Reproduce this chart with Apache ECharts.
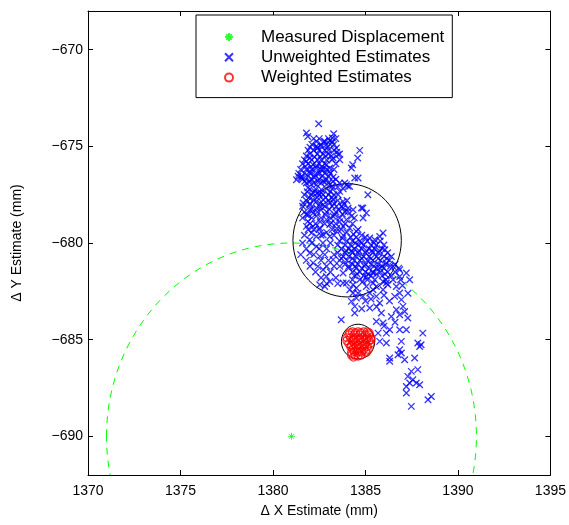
<!DOCTYPE html>
<html>
<head>
<meta charset="utf-8">
<script src="https://cdn.jsdelivr.net/npm/echarts@6/dist/echarts.min.js"></script>
<style>
  html, body { margin: 0; padding: 0; background: #fff; }
  #chart { width: 569px; height: 525px; }
</style>
</head>
<body>
<div id="chart"></div>
<script>
// tick labels
var xTicks = [1370, 1375, 1380, 1385, 1390, 1395];
var yTicks = [-690, -685, -680, -675, -670];

// measured displacement
var measured = [[1381, -690]];

// unweighted estimates
var unweighted = [
  [1382.47,-673.83],[1381.81,-674.31],[1381.88,-674.49],[1383.28,-674.35],[1383.21,-674.57],
  [1383.07,-674.71],[1382.80,-674.74],[1382.89,-674.91],[1382.62,-675.00],[1382.42,-675.07],
  [1382.35,-675.00],[1383.43,-675.09],[1383.52,-675.43],[1383.25,-675.60],[1383.61,-675.69],
  [1384.69,-675.21],[1384.58,-675.60],[1384.31,-675.95],[1384.24,-676.12],[1384.60,-676.64],
  [1381.99,-675.60],[1381.81,-675.78],[1382.17,-675.95],[1382.35,-676.12],[1381.99,-676.30],
  [1382.26,-676.47],[1382.53,-676.38],[1382.71,-676.21],[1382.89,-675.95],[1383.07,-676.12],
  [1381.36,-676.55],[1381.54,-676.64],[1381.27,-676.73],[1381.72,-676.81],[1381.99,-676.81],
  [1382.35,-676.98],[1382.71,-676.81],[1383.07,-676.98],[1383.25,-676.81],[1381.89,-677.15],
  [1382.26,-677.33],[1382.62,-677.24],[1382.71,-677.50],[1383.88,-676.90],[1384.06,-677.07],
  [1383.61,-677.33],[1383.52,-677.50],[1385.13,-677.50],[1384.86,-678.19],[1385.05,-678.45],
  [1381.63,-677.93],[1381.99,-678.02],[1382.35,-678.19],[1382.71,-678.02],[1383.07,-677.93],
  [1383.43,-678.11],[1383.79,-677.85],[1384.06,-678.19],[1384.33,-678.28],
  [1383.97,-676.98],[1384.15,-677.07],[1383.25,-677.76],[1384.42,-676.64],[1383.79,-678.19],
  [1384.06,-678.37],[1384.24,-678.62],[1383.97,-678.79],[1383.61,-678.71],[1383.25,-678.62],
  [1381.89,-678.88],[1382.17,-679.14],[1381.81,-679.14],[1382.53,-679.22],[1382.08,-679.48],
  [1382.35,-679.66],[1382.89,-678.79],[1383.07,-679.05],[1382.71,-679.57],[1383.07,-679.66],
  [1383.43,-679.40],[1383.79,-679.14],[1384.15,-679.22],[1384.51,-679.40],[1381.81,-678.54],
  [1381.99,-678.28],[1382.17,-678.45],[1382.53,-678.11],[1382.35,-677.85],[1382.71,-677.76],
  [1382.43,-677.41],
  [1384.78,-678.19],[1384.87,-678.71],[1385.95,-679.48],[1385.77,-679.66],[1385.50,-679.83],
  [1385.23,-679.74],[1381.99,-679.83],[1382.35,-680.18],[1381.99,-680.52],[1382.53,-680.69],
  [1382.17,-681.03],[1382.43,-681.21],[1382.71,-681.38],[1382.89,-681.73],[1383.07,-681.99],
  [1382.80,-682.25],[1382.53,-682.16],[1383.25,-680.86],[1383.61,-681.21],[1383.79,-681.55],
  [1383.97,-682.07],[1384.15,-682.42],[1384.33,-682.59],[1384.51,-682.33],[1384.69,-681.90],
  [1385.05,-681.73],[1385.41,-681.55],[1385.77,-681.29],[1386.13,-681.03],[1386.49,-681.21],
  [1386.85,-681.38],[1387.21,-681.55],[1387.39,-681.90],[1386.85,-681.73],[1386.49,-681.90],
  [1386.13,-682.07],[1385.95,-682.42],[1385.59,-682.25],[1385.23,-682.59],[1384.86,-682.76],
  [1385.05,-682.25],
  [1383.79,-682.07],[1384.33,-682.16],[1384.86,-681.99],[1385.41,-682.07],[1385.95,-681.99],
  [1386.21,-682.16],[1384.51,-682.85],[1384.24,-683.02],[1384.42,-683.28],[1384.42,-683.62],
  [1385.41,-682.42],[1385.59,-682.76],[1385.23,-683.36],[1385.77,-683.10],[1385.86,-683.62],
  [1385.59,-684.06],[1385.95,-684.14],[1386.67,-682.25],[1386.85,-682.59],[1386.58,-682.76],
  [1386.94,-682.93],[1387.03,-683.28],[1386.67,-683.45],[1387.12,-683.54],[1386.85,-683.71],
  [1387.29,-683.88],[1383.69,-683.97],[1385.68,-684.66],[1386.13,-684.66],[1386.31,-684.49],
  [1385.77,-685.09],[1386.13,-685.17],[1386.85,-684.49],[1387.21,-684.49],[1386.94,-685.09],
  [1388.10,-684.66],[1387.83,-685.17],[1388.01,-685.26],[1387.93,-685.35],[1386.85,-685.52],
  [1386.94,-685.69],[1386.76,-685.78],[1386.31,-685.95],[1386.31,-686.12],[1387.12,-686.04],
  [1387.66,-685.95],[1387.48,-686.64],[1387.83,-686.55],[1387.29,-686.90],[1387.56,-687.07],
  [1387.39,-687.24],[1387.75,-687.24],[1387.93,-687.33],[1387.21,-687.42],[1387.21,-687.76],
  [1387.48,-688.45],[1388.56,-687.94],[1388.38,-688.11],
  // dense upper cluster
  [1382.2,-674.6],[1382.5,-674.6],[1383.0,-674.6],[1383.4,-674.6],
  [1382.1,-674.9],[1382.6,-674.9],[1383.1,-674.9],[1383.3,-674.9],
  [1381.9,-675.2],[1382.2,-675.2],[1382.5,-675.2],[1382.8,-675.2],[1383.0,-675.2],[1383.3,-675.2],
  [1382.0,-675.4],[1382.4,-675.4],[1382.7,-675.4],[1383.0,-675.4],[1383.6,-675.4],
  [1381.7,-675.7],[1382.1,-675.7],[1382.4,-675.7],[1382.6,-675.7],[1382.9,-675.7],[1383.2,-675.7],
  [1381.6,-675.9],[1381.9,-675.9],[1382.5,-675.9],[1382.8,-675.9],[1383.4,-675.9],
  [1381.5,-676.2],[1381.8,-676.2],[1382.1,-676.2],[1382.6,-676.2],[1382.9,-676.2],[1383.3,-676.2],
  [1381.4,-676.4],[1381.7,-676.4],[1382.0,-676.4],[1382.4,-676.4],[1382.8,-676.4],[1383.1,-676.4],
  [1381.6,-676.7],[1382.1,-676.7],[1382.5,-676.7],[1382.9,-676.7],[1383.4,-676.7],
  [1381.8,-676.9],[1382.2,-676.9],[1382.6,-676.9],[1383.0,-676.9],[1383.6,-676.9],
  [1382.0,-677.2],[1382.3,-677.2],[1382.9,-677.2],[1383.2,-677.2],[1383.8,-677.2],
  [1381.7,-677.5],[1382.1,-677.5],[1382.5,-677.5],[1383.0,-677.5],[1383.3,-677.5],
  [1382.35,-674.75],[1382.75,-674.75],[1383.2,-674.75],
  [1382.0,-675.05],[1382.4,-675.1],[1382.95,-675.05],[1383.45,-675.3],
  [1381.8,-675.5],[1382.25,-675.55],[1382.55,-675.55],[1382.85,-675.5],[1383.15,-675.5],
  [1381.75,-676.05],[1382.05,-676.05],[1382.35,-676.0],[1382.65,-676.05],[1383.05,-676.3],
  [1381.55,-676.55],[1381.9,-676.55],[1382.25,-676.6],[1382.65,-676.55],[1383.0,-676.55],[1383.25,-676.6],
  [1381.95,-676.85],[1382.4,-676.8],[1382.8,-676.85],[1383.2,-677.05],
  [1381.85,-677.35],[1382.15,-677.4],[1382.6,-677.4],[1383.1,-677.35],[1383.5,-677.1],
  [1381.95,-677.65],[1382.4,-677.65],[1382.85,-677.65],[1383.2,-677.65],
  // upper part of big circle
  [1381.8,-677.8],[1382.2,-677.8],[1383.0,-677.8],[1383.5,-677.8],[1384.0,-677.8],
  [1381.6,-678.1],[1382.8,-678.1],[1383.2,-678.1],[1383.7,-678.1],
  [1381.7,-678.4],[1382.4,-678.4],[1382.9,-678.4],[1383.4,-678.4],[1383.9,-678.4],
  [1381.6,-678.7],[1382.1,-678.7],[1382.6,-678.7],[1383.1,-678.7],[1384.4,-678.7],
  [1382.3,-679.0],[1382.8,-679.0],[1383.4,-679.0],[1383.9,-679.0],[1384.3,-679.0],
  [1381.9,-679.3],[1382.5,-679.3],[1383.2,-679.3],[1383.7,-679.3],[1384.6,-679.3],
  [1381.7,-679.6],[1382.6,-679.6],[1383.3,-679.6],[1383.8,-679.6],[1384.8,-679.6],
  [1382.0,-677.95],[1382.55,-677.95],[1383.3,-677.95],[1383.85,-678.0],
  [1382.1,-678.25],[1382.6,-678.3],[1383.05,-678.25],[1383.55,-678.3],
  [1381.9,-678.55],[1382.35,-678.6],[1382.85,-678.55],[1383.35,-678.55],[1383.75,-678.5],
  [1382.0,-679.0],[1382.55,-678.9],[1383.15,-678.95],[1383.6,-678.9],
  [1382.2,-679.3],[1382.9,-679.45],[1383.45,-679.25],[1384.0,-679.45],[1384.35,-679.55],
  // central mass
  [1384.2,-679.7],[1384.5,-679.7],[1385.0,-679.7],
  [1383.6,-679.9],[1384.0,-679.9],[1384.3,-679.9],[1384.7,-679.9],[1385.1,-679.9],[1385.8,-679.9],
  [1383.5,-680.1],[1383.9,-680.1],[1384.2,-680.1],[1384.6,-680.1],[1384.9,-680.1],[1385.3,-680.1],[1385.6,-680.1],[1386.0,-680.1],
  [1383.7,-680.3],[1384.1,-680.3],[1384.4,-680.3],[1384.8,-680.3],[1385.2,-680.3],[1385.5,-680.3],[1385.9,-680.3],
  [1383.5,-680.5],[1383.9,-680.5],[1384.3,-680.5],[1384.6,-680.5],[1385.0,-680.5],[1385.4,-680.5],[1385.7,-680.5],[1386.2,-680.5],
  [1383.8,-680.7],[1384.1,-680.7],[1384.5,-680.7],[1384.9,-680.7],[1385.2,-680.7],[1385.6,-680.7],[1386.0,-680.7],[1386.4,-680.7],
  [1383.6,-680.9],[1384.0,-680.9],[1384.4,-680.9],[1384.7,-680.9],[1385.1,-680.9],[1385.4,-680.9],[1385.8,-680.9],[1386.3,-680.9],
  [1383.9,-681.1],[1384.3,-681.1],[1384.6,-681.1],[1385.0,-681.1],[1385.3,-681.1],[1385.7,-681.1],[1386.1,-681.1],[1386.6,-681.1],
  [1384.1,-681.3],[1384.5,-681.3],[1384.8,-681.3],[1385.2,-681.3],[1385.6,-681.3],[1386.0,-681.3],[1386.8,-681.3],
  [1384.3,-681.5],[1384.7,-681.5],[1385.0,-681.5],[1385.4,-681.5],[1385.8,-681.5],[1386.2,-681.5],
  [1384.4,-681.7],[1384.9,-681.7],[1385.3,-681.7],[1385.9,-681.7],[1386.4,-681.7],
  [1384.3,-681.9],[1385.1,-681.9],[1385.5,-681.9],[1386.1,-681.9],
  [1383.75,-679.75],[1384.45,-680.0],[1384.8,-680.0],[1385.45,-680.0],
  [1383.95,-680.4],[1384.25,-680.4],[1384.65,-680.4],[1385.05,-680.4],[1385.35,-680.4],[1385.75,-680.4],[1386.05,-680.35],
  [1383.7,-680.8],[1384.3,-680.8],[1384.8,-680.8],[1385.3,-680.8],[1385.7,-680.8],[1386.15,-680.8],
  [1384.1,-681.2],[1384.45,-681.2],[1384.95,-681.2],[1385.45,-681.2],[1385.9,-681.2],[1386.35,-681.2],
  [1384.55,-681.6],[1385.15,-681.6],[1385.6,-681.6],[1386.05,-681.6],[1386.6,-681.5],
  // left lower part of big circle
  [1381.6,-680.0],[1382.1,-680.0],[1382.7,-680.0],[1383.1,-680.0],
  [1381.8,-680.3],[1382.5,-680.3],[1382.9,-680.3],
  [1381.5,-680.6],[1382.2,-680.6],[1382.8,-680.6],[1383.3,-680.6],
  [1381.8,-680.9],[1382.6,-680.9],[1383.0,-680.9],
  [1382.0,-681.2],[1382.9,-681.2],[1383.3,-681.2],
  [1382.3,-681.5],[1383.1,-681.5],
  [1382.6,-681.8],[1383.4,-681.8],
  [1382.9,-682.1],[1383.5,-682.1],
  // below big circle
  [1384.6,-682.6],[1385.0,-683.0],[1385.3,-682.9],[1384.8,-683.4],[1386.0,-682.7],
  [1386.3,-683.0],[1385.6,-683.3],[1386.4,-683.8],[1386.0,-684.3],[1386.6,-684.1],
  [1387.0,-682.2],[1386.9,-681.9],[1387.3,-682.6]
];

// weighted estimates
var weighted = [
  [1384.3,-684.6],[1384.6,-684.6],[1384.9,-684.6],[1385.1,-684.6],
  [1384.1,-684.75],[1384.4,-684.75],[1384.7,-684.75],[1385.0,-684.75],[1385.2,-684.75],
  [1384.0,-684.9],[1384.2,-684.9],[1384.5,-684.9],[1384.8,-684.9],[1385.1,-684.9],[1385.3,-684.9],
  [1384.0,-685.05],[1384.3,-685.05],[1384.6,-685.05],[1384.9,-685.05],[1385.2,-685.05],
  [1384.1,-685.2],[1384.4,-685.2],[1384.7,-685.2],[1385.0,-685.2],[1385.25,-685.2],
  [1384.2,-685.35],[1384.5,-685.35],[1384.8,-685.35],[1385.1,-685.35],
  [1384.3,-685.5],[1384.6,-685.5],[1384.9,-685.5],[1385.15,-685.5],
  [1384.25,-685.65],[1384.55,-685.65],[1384.8,-685.65],[1385.05,-685.65],
  [1384.25,-685.8],[1384.45,-685.8],[1384.75,-685.8],
  [1384.15,-684.65],[1384.45,-684.65],[1384.75,-684.65],[1385.2,-684.65],
  [1384.35,-685.0],[1384.7,-685.0],[1385.05,-685.0],[1385.3,-685.0],
  [1384.25,-685.3],[1384.6,-685.3],[1384.95,-685.3],
  [1384.4,-685.6],[1384.7,-685.6],[1385.0,-685.6],
  [1384.35,-685.9],[1384.6,-685.85]
];

// circles: [centre x, centre y, radius]
var measuredRing = [[1381, -690, 10]];
var spreadRings = [[1384.01, -679.86, 2.93], [1384.6, -685.1, 0.9]];

var FONT = 'Liberation Sans, Arial, Helvetica, sans-serif';
var CROSS = 'path://M0,0L10,10M10,0L0,10';
var STAR = 'path://M5,0L5,10M0,5L10,5M1.5,1.5L8.5,8.5M8.5,1.5L1.5,8.5';

function ring(color, dash) {
  return function (params, api) {
    var c = api.coord([api.value(0), api.value(1)]);
    var s = api.size([api.value(2), api.value(2)]);
    return {
      type: 'ellipse',
      shape: { cx: c[0], cy: c[1], rx: s[0], ry: s[1] },
      style: { fill: 'none', stroke: color, lineWidth: 1, lineDash: dash }
    };
  };
}

function minus(v) {
  return String(v).replace('-', '\u2212');
}

var axisBase = {
  type: 'value',
  axisLine: { show: true, onZero: false, lineStyle: { color: '#000', width: 1 } },
  axisTick: { show: true, inside: true, length: 5, lineStyle: { color: '#000' } },
  splitLine: { show: false },
  axisLabel: { color: '#000', fontFamily: FONT, fontSize: 14 }
};

function xAxis(pos, labels) {
  return Object.assign({}, axisBase, {
    position: pos, min: 1370, max: 1395, interval: 5,
    name: labels ? '\u0394 X Estimate (mm)' : '',
    nameLocation: 'middle', nameGap: 29,
    nameTextStyle: { color: '#000', fontFamily: FONT, fontSize: 14 },
    axisTick: Object.assign({}, axisBase.axisTick, { customValues: xTicks }),
    axisLabel: Object.assign({}, axisBase.axisLabel, {
      show: labels, margin: 9, customValues: xTicks,
      formatter: function (v) { return String(v); }
    })
  });
}

function yAxis(pos, labels) {
  return Object.assign({}, axisBase, {
    position: pos, min: -692, max: -668,
    name: labels ? '\u0394 Y Estimate (mm)' : '',
    nameLocation: 'middle', nameGap: 64,
    nameTextStyle: { color: '#000', fontFamily: FONT, fontSize: 14 },
    axisTick: Object.assign({}, axisBase.axisTick, { customValues: yTicks }),
    axisLabel: Object.assign({}, axisBase.axisLabel, {
      show: labels, margin: 5, customValues: yTicks, formatter: minus
    })
  });
}

var chart = echarts.init(document.getElementById('chart'), null, { renderer: 'canvas' });

var option = {
  animation: false,
  backgroundColor: '#fff',
  grid: { left: 88, top: 11, width: 463, height: 464 },
  xAxis: [xAxis('bottom', true), xAxis('top', false)],
  yAxis: [yAxis('left', true), yAxis('right', false)],
  legend: {
    left: 196, top: 15,
    orient: 'vertical',
    data: ['Measured Displacement', 'Unweighted Estimates', 'Weighted Estimates'],
    itemWidth: 54, itemHeight: 8, itemGap: 0.3,
    padding: [12, 8, 10, 28],
    borderColor: '#000', borderWidth: 1, backgroundColor: '#fff',
    textStyle: { color: '#000', fontFamily: FONT, fontSize: 17, lineHeight: 20 },
    selectedMode: false
  },
  series: [
    {
      name: 'Measured Displacement', type: 'scatter', data: measured,
      symbol: STAR, symbolSize: 7,
      itemStyle: { color: 'transparent', borderColor: '#00ff00', borderWidth: 1 }
    },
    {
      name: 'Unweighted Estimates', type: 'scatter', data: unweighted,
      symbol: CROSS, symbolSize: 6.5,
      itemStyle: { color: 'transparent', borderColor: '#0000ff', borderWidth: 1.3 }
    },
    {
      name: 'Weighted Estimates', type: 'scatter', data: weighted,
      symbol: 'circle', symbolSize: 8,
      itemStyle: { color: 'transparent', borderColor: '#ff0000', borderWidth: 1.2 }
    },
    {
      type: 'custom', data: measuredRing, clip: true,
      renderItem: ring('#00ff00', [7, 6]), silent: true
    },
    {
      type: 'custom', data: spreadRings, clip: true,
      renderItem: ring('#000', null), silent: true
    }
  ]
};

chart.setOption(option);
</script>
</body>
</html>
